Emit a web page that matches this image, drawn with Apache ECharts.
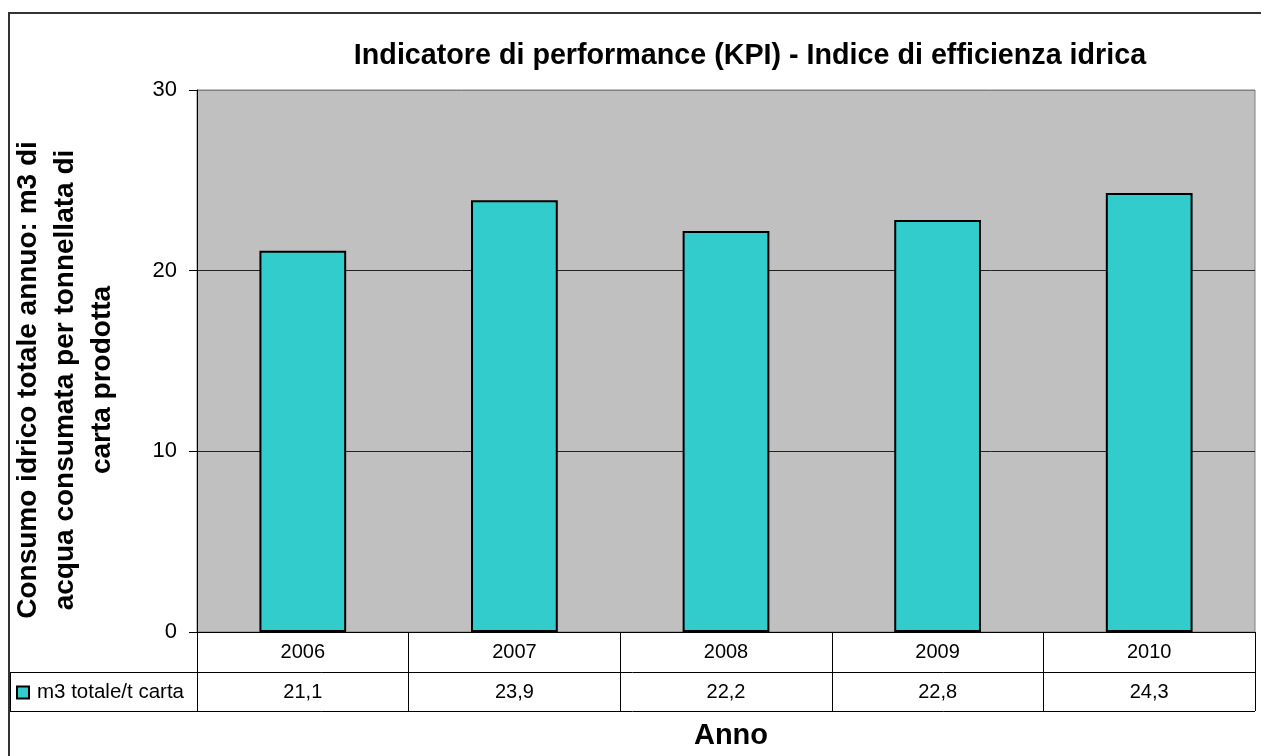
<!DOCTYPE html>
<html>
<head>
<meta charset="utf-8">
<script src="https://cdn.jsdelivr.net/npm/echarts@6/dist/echarts.min.js"></script>
<style>
html,body{margin:0;padding:0;background:#fff;}
#c{width:1261px;height:756px;}
</style>
</head>
<body>
<div id="c"></div>
<script>
var years = ['2006', '2007', '2008', '2009', '2010'];
var values = [21.1, 23.9, 22.2, 22.8, 24.3];
var seriesName = 'm3 totale/t carta';
var yTicks = { min: 0, max: 30, interval: 10 };
var titleText = 'Indicatore di performance (KPI) - Indice di efficienza idrica';
var yTitle = 'Consumo idrico totale annuo: m3 di\nacqua consumata per tonnellata di\ncarta prodotta';
var xTitle = 'Anno';

var FONT = "'Liberation Sans', Arial, sans-serif";
var valueLabels = values.map(function (v) { return v.toFixed(1).replace('.', ','); });

var chart = echarts.init(document.getElementById('c'), null, { renderer: 'canvas' });
chart.setOption({
  backgroundColor: '#ffffff',
  animation: false,
  textStyle: { fontFamily: FONT },
  title: [
    { text: titleText, left: 745, top: 37, textAlign: 'center',
      textStyle: { fontFamily: FONT, fontSize: 28.7, fontWeight: 'bold', color: '#000' } },
    { text: xTitle, left: 726, top: 716, textAlign: 'center',
      textStyle: { fontFamily: FONT, fontSize: 29, fontWeight: 'bold', color: '#000' } }
  ],
  legend: {
    left: 16, top: 682, padding: 0, itemWidth: 12, itemHeight: 12, icon: 'rect', selectedMode: false,
    data: [seriesName],
    textStyle: { fontFamily: FONT, fontSize: 20.5, color: '#000', padding: [0, 0, 0, 3] }
  },
  grid: {
    left: 197, right: 6, top: 90, bottom: 124,
    show: true, backgroundColor: '#C0C0C0', borderColor: '#808080', borderWidth: 1
  },
  xAxis: [
    {
      type: 'category', data: years, position: 'bottom',
      axisLine: { show: true, lineStyle: { color: '#000', width: 1 } },
      axisTick: { show: true, length: 79, alignWithLabel: false, interval: 0, lineStyle: { color: '#000', width: 1 } },
      axisLabel: { fontFamily: FONT, fontSize: 20, color: '#000', margin: 10, interval: 0 },
      splitLine: { show: false }
    },
    {
      type: 'category', data: valueLabels, position: 'bottom', offset: 40,
      axisLine: { show: false }, axisTick: { show: false },
      axisLabel: { fontFamily: FONT, fontSize: 20, color: '#000', margin: 10, interval: 0 },
      splitLine: { show: false }
    }
  ],
  yAxis: {
    type: 'value', min: yTicks.min, max: yTicks.max, interval: yTicks.interval,
    name: yTitle, nameLocation: 'middle', nameGap: 76, nameRotate: 90,
    nameTextStyle: { fontFamily: FONT, fontSize: 28, fontWeight: 'bold', color: '#000', lineHeight: 37, align: 'center', padding: [0, 38, 0, 0] },
    axisLine: { show: true, lineStyle: { color: '#000', width: 1 } },
    axisTick: { show: true, length: 8, lineStyle: { color: '#000' } },
    axisLabel: { fontFamily: FONT, fontSize: 22, color: '#000', margin: 20 },
    splitLine: { show: true, lineStyle: { color: ['#000', '#222', '#222', '#808080'], width: 1 } }
  },
  series: [{
    name: seriesName, type: 'bar', data: values, barWidth: '41%',
    itemStyle: { color: '#33CCCC', borderColor: '#000', borderWidth: 2 }
  }],
  graphic: [
    { type: 'rect', shape: { x: 9, y: 13, width: 1400, height: 900 }, style: { fill: null, stroke: '#333', lineWidth: 2 }, silent: true, z: 100 },
    { type: 'line', shape: { x1: 10, y1: 672.5, x2: 1255, y2: 672.5 }, style: { stroke: '#000', lineWidth: 1 }, silent: true },
    { type: 'line', shape: { x1: 10, y1: 711.5, x2: 1255, y2: 711.5 }, style: { stroke: '#000', lineWidth: 1 }, silent: true },
    { type: 'line', shape: { x1: 10.5, y1: 672, x2: 10.5, y2: 712 }, style: { stroke: '#000', lineWidth: 1 }, silent: true }
  ]
});
</script>
</body>
</html>
